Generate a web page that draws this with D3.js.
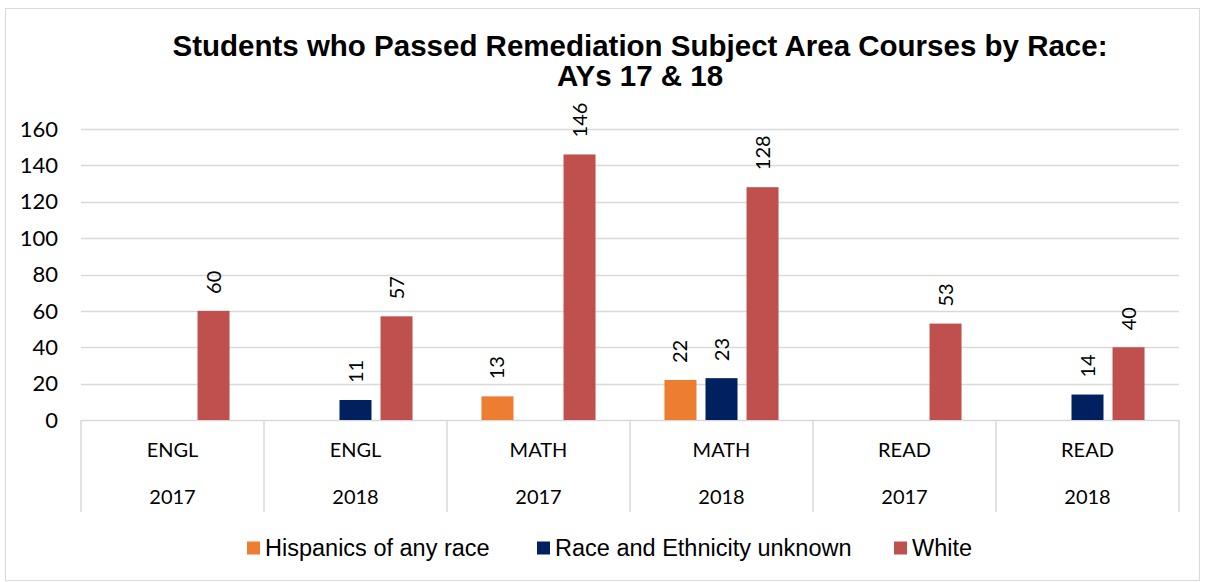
<!DOCTYPE html>
<html><head><meta charset="utf-8">
<script src="https://cdn.jsdelivr.net/npm/d3@7"></script>
<style>body{margin:0;background:#fff}svg{display:block}</style>
</head><body>
<script>
const subjects = ["ENGL","ENGL","MATH","MATH","READ","READ"];
const years = ["2017","2018","2017","2018","2017","2018"];
const seriesNames = ["Hispanics of any race","Race and Ethnicity unknown","White"];
const hispanic = [null,null,13,22,null,null];
const unknown = [null,11,null,23,null,14];
const white = [60,57,146,128,53,40];
const yTicks = [0,20,40,60,80,100,120,140,160];
const colors = ["#ED7D31","#002060","#C0504D"];
const titleLines = ["Students who Passed Remediation Subject Area Courses by Race:","AYs 17 & 18"];

(function(){
const W=1209,H=582;
const svg=d3.select("body").append("svg").attr("width",W).attr("height",H);
svg.append("rect").attr("x",5.5).attr("y",8.5).attr("width",1194).attr("height",572).attr("fill","#fff").attr("stroke","#d9d9d9");

const pL=81,pR=1179,pT=129,pB=420;
const idx=d3.range(subjects.length);
const x0=d3.scaleBand().domain(idx).range([pL,pR]).padding(0);
const x1=d3.scaleBand().domain(seriesNames).range([0,x0.bandwidth()]).paddingInner(0.22).paddingOuter(0.84);
const y=d3.scaleLinear().domain([0,160]).range([pB,pT]);

const fontC="Lato, Carlito, 'Open Sans', sans-serif";
const fontA="'Liberation Sans', Arial, sans-serif";

svg.append("g").selectAll("line").data(yTicks).join("line")
 .attr("x1",pL).attr("x2",pR).attr("y1",d=>Math.round(y(d))+0.5).attr("y2",d=>Math.round(y(d))+0.5)
 .attr("stroke","#d9d9d9").attr("stroke-width",1.5);

svg.append("g").selectAll("text").data(yTicks).join("text")
 .attr("x",58).attr("y",d=>y(d)).attr("dy","0.35em").attr("text-anchor","end")
 .attr("font-family",fontC).attr("font-size",22).attr("fill","#000").text(d=>d);

svg.append("g").selectAll("line").data(d3.range(subjects.length+1)).join("line")
 .attr("x1",i=>i<subjects.length?x0(i):pR).attr("x2",i=>i<subjects.length?x0(i):pR)
 .attr("y1",pB).attr("y2",512).attr("stroke","#d9d9d9").attr("stroke-width",1.5);

const cat=svg.append("g");
cat.selectAll("text.s").data(idx).join("text").attr("class","s")
 .attr("x",i=>x0(i)+x0.bandwidth()/2).attr("y",450).attr("dy","0.35em").attr("text-anchor","middle")
 .attr("font-family",fontC).attr("font-size",20).text(i=>subjects[i]);
cat.selectAll("text.y").data(idx).join("text").attr("class","y")
 .attr("x",i=>x0(i)+x0.bandwidth()/2).attr("y",497).attr("dy","0.35em").attr("text-anchor","middle")
 .attr("font-family",fontC).attr("font-size",20).text(i=>years[i]);

const seriesData=[hispanic,unknown,white];
const bars=[];
seriesData.forEach((arr,s)=>arr.forEach((v,i)=>{ if(v!=null) bars.push({s,i,v}); }));
svg.append("g").selectAll("rect").data(bars).join("rect")
 .attr("x",d=>x0(d.i)+x1(seriesNames[d.s])).attr("width",x1.bandwidth())
 .attr("y",d=>y(d.v)).attr("height",d=>y(0)-y(d.v)).attr("fill",d=>colors[d.s]);

svg.append("g").selectAll("text").data(bars).join("text")
 .attr("transform",d=>`translate(${x0(d.i)+x1(seriesNames[d.s])+x1.bandwidth()/2},${y(d.v)-17}) rotate(-90)`)
 .attr("dy","0.35em").attr("text-anchor","start")
 .attr("font-family",fontC).attr("font-size",20).attr("fill","#000").text(d=>d.v);

svg.append("g").selectAll("text").data(titleLines).join("text")
 .attr("x",640).attr("y",(d,i)=>56+i*30)
 .attr("text-anchor","middle")
 .attr("font-family",fontA).attr("font-weight","bold").attr("font-size",29.5).attr("fill","#000").text(d=>d);

const legX=[247,537,894];
const lg=svg.append("g").selectAll("g").data(seriesNames).join("g")
 .attr("transform",(d,i)=>`translate(${legX[i]},548)`);
lg.append("rect").attr("x",0).attr("y",-6.5).attr("width",13).attr("height",13).attr("fill",(d,i)=>colors[i]);
lg.append("text").attr("x",18).attr("y",0).attr("dy","0.35em").attr("font-family",fontA).attr("font-size",23.5).text(d=>d);
})();
</script>
</body></html>
